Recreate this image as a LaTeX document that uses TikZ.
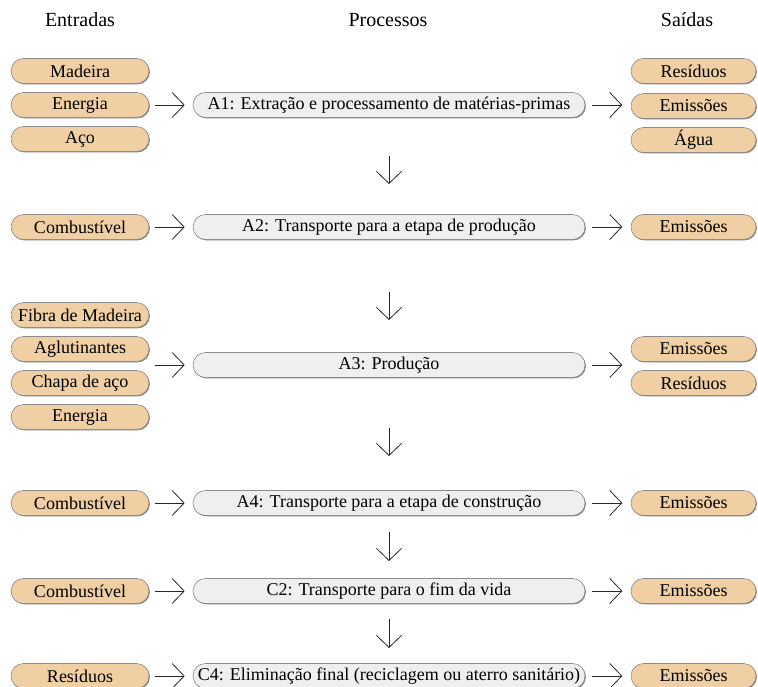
\documentclass[tikz,border=0pt]{standalone}
\usepackage{fontspec}
\setmainfont{Liberation Serif}
\usetikzlibrary{arrows.meta,shadows,calc}
\definecolor{tanfill}{HTML}{EFCFA3}
\definecolor{procfill}{HTML}{EEF0EE}
\definecolor{edgegray}{HTML}{8C8C8C}
\begin{document}
\begin{tikzpicture}[x=1pt,y=-1pt,
  box/.style={rectangle, rounded corners=12.5pt, minimum height=25pt, inner sep=0pt,
    draw=edgegray, line width=0.6pt,
    drop shadow={shadow xshift=0.9pt, shadow yshift=-0.9pt, fill=black!50, opacity=1},
    font=\fontsize{18}{21}\selectfont},
  inbox/.style={box, fill=tanfill, minimum width=138pt},
  outbox/.style={box, fill=tanfill, minimum width=125pt},
  proc/.style={box, fill=procfill, minimum width=392pt},
  head/.style={font=\fontsize{20}{24}\selectfont, inner sep=0pt},
  arr/.style={draw=black!85, line width=0.8pt, -{Straight Barb[length=12pt,width=25pt,line width=0.8pt]}}
]
\useasboundingbox (0,0) rectangle (758,687);

% headers
\node[head] (hE) at (80,20) {Entradas};
\node[head] (hP) at (388,20) {Processos};
\node[head] (hS) at (687,20) {Saídas};

% processes
\node[proc] (A1) at (389,105) {A1: Extração e processamento de matérias-primas};
\node[proc] (A2) at (389,227) {A2: Transporte para a etapa de produção};
\node[proc] (A3) at (389,365) {A3: Produção};
\node[proc] (A4) at (389,503) {A4: Transporte para a etapa de construção};
\node[proc] (C2) at (389,591) {C2: Transporte para o fim da vida};
\node[proc] (C4) at (389,676) {C4: Eliminação final (reciclagem ou aterro sanitário)};

% inputs
\node[inbox] (i1a) at (80,71) {Madeira};
\node[inbox] (i1b) at (80,105) {Energia};
\node[inbox] (i1c) at (80,139) {Aço};
\node[inbox] (i2) at (80,227) {Combustível};
\node[inbox] (i3a) at (80,315) {Fibra de Madeira};
\node[inbox] (i3b) at (80,349) {Aglutinantes};
\node[inbox] (i3c) at (80,383) {Chapa de aço};
\node[inbox] (i3d) at (80,417) {Energia};
\node[inbox] (i4) at (80,503) {Combustível};
\node[inbox] (i5) at (80,591) {Combustível};
\node[inbox] (i6) at (80,676) {Resíduos};

% outputs
\node[outbox] (o1a) at (693.5,71) {Resíduos};
\node[outbox] (o1b) at (693.5,106) {Emissões};
\node[outbox] (o1c) at (693.5,140) {Água};
\node[outbox] (o2) at (693.5,227) {Emissões};
\node[outbox] (o3a) at (693.5,349) {Emissões};
\node[outbox] (o3b) at (693.5,383) {Resíduos};
\node[outbox] (o4) at (693.5,503) {Emissões};
\node[outbox] (o5) at (693.5,591) {Emissões};
\node[outbox] (o6) at (693.5,676) {Emissões};

% horizontal arrows
\foreach \p in {A1,A2,A3,A4,C2,C4}{
  \draw[arr] ([xshift=-38pt]\p.west) -- ([xshift=-8pt]\p.west);
  \draw[arr] ([xshift=7pt]\p.east) -- ([xshift=37pt]\p.east);
}

% vertical arrows
\coordinate (d1s) at (389,156); \coordinate (d1e) at (389,184);
\coordinate (d2s) at (389,292); \coordinate (d2e) at (389,320);
\coordinate (d3s) at (389,428); \coordinate (d3e) at (389,456);
\coordinate (d4s) at (389,532); \coordinate (d4e) at (389,561);
\coordinate (d5s) at (389,619); \coordinate (d5e) at (389,648);
\foreach \i in {1,...,5}{ \draw[arr] (d\i s) -- (d\i e); }
\end{tikzpicture}
\end{document}
